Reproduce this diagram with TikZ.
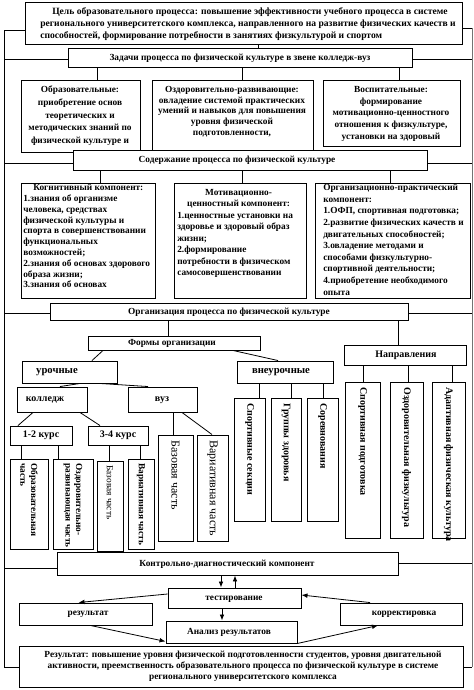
\documentclass[tikz,border=0pt]{standalone}
\usepackage{fontspec}
\setmainfont{Liberation Serif}[BoldFont={Liberation Serif Bold},ItalicFont={Liberation Serif Italic}]
\usetikzlibrary{fit,arrows.meta,calc}
\tikzset{
  bx/.style={draw=black, line width=0.7pt, fill=white, inner sep=0pt},
  tx/.style={inner sep=0pt, font=\bfseries\fontsize{7}{8.5}\selectfont, align=center},
  vt/.style={rotate=-90, anchor=west, inner sep=0pt, align=left, font=\bfseries\fontsize{7}{8}\selectfont},
  ln/.style={line width=0.6pt},
  ar/.style={line width=0.6pt, -{Latex[length=4.5pt,width=3.5pt]}},
}
\newcommand\mkbox[5]{\node[bx,fit={(#2,#3) (#4,#5)}] (#1) {};}
\begin{document}
\begin{tikzpicture}[x=0.75pt,y=-0.75pt]
\useasboundingbox (0,0) rectangle (474,690);
% ---------- boxes
\mkbox{goal}{25}{2}{462}{44}
\mkbox{tasks}{68}{48}{412}{67}
\mkbox{A}{21}{80}{140}{152}
\mkbox{B}{152}{80}{313}{152}
\mkbox{C}{323}{80}{460}{146}
\mkbox{content}{73}{150}{427}{170}
\mkbox{k1}{21}{183}{155}{298}
\mkbox{k2}{174}{183}{306}{298}
\mkbox{k3}{315}{183}{470}{298}
\mkbox{org}{50}{303}{408}{320}
\mkbox{forms}{88}{336}{260}{350}
\mkbox{napr}{344}{345}{466}{365}
\mkbox{uroch}{22}{361}{117}{383}
\mkbox{vneur}{237}{361}{333}{383}
\mkbox{koll}{17}{387}{87}{412}
\mkbox{vuz}{128}{387}{197}{412}
\mkbox{c12}{10}{426}{72}{445}
\mkbox{c34}{88}{426}{148}{445}
\mkbox{v1}{10}{459}{48}{549}
\mkbox{v2}{53}{459}{93}{549}
\mkbox{v3}{97}{461}{123}{551}
\mkbox{v4}{128}{459}{154}{549}
\mkbox{vz1}{158}{435}{193}{541}
\mkbox{vz2}{197}{435}{228}{541}
\mkbox{e1}{234}{398}{265}{521}
\mkbox{e2}{271}{398}{301}{521}
\mkbox{e3}{307}{398}{338}{521}
\mkbox{n1}{345}{382}{380}{538}
\mkbox{n2}{390}{382}{423}{538}
\mkbox{n3}{432}{382}{465}{538}
\mkbox{ctrl}{57}{552}{398}{575}
\mkbox{test}{168}{588}{301}{608}
\mkbox{res}{19}{603}{152}{625}
\mkbox{korr}{340}{603}{462}{625}
\mkbox{an}{166}{621}{297}{643}
\mkbox{final}{19}{646}{463}{687}
% ---------- texts
\node[tx, anchor=north west, align=left, font=\bfseries\fontsize{7.2}{9}\selectfont] (tgoal) at (40,7)
 {\hspace*{9pt}Цель образовательного процесса: повышение эффективности учебного процесса в системе\\
  регионального университетского комплекса, направленного на развитие физических качеств и\\
  способностей, формирование потребности в занятиях физкультурой и спортом};
\node[tx] (ttasks) at (240,58) {Задачи процесса по физической культуре в звене колледж-вуз};
\node[tx, anchor=north, font=\bfseries\fontsize{7}{9.4}\selectfont] (tA) at (80,86)
 {Образовательные:\\приобретение основ\\теоретических и\\методических знаний по\\физической культуре и};
\node[tx, anchor=north, font=\bfseries\fontsize{7}{8}\selectfont] (tB) at (232,86)
 {Оздоровительно-развивающие:\\овладение системой практических\\умений и навыков для повышения\\уровня физической\\подготовленности,};
\node[tx, anchor=north, font=\bfseries\fontsize{7}{8.8}\selectfont] (tC) at (391,86)
 {Воспитательные:\\формирование\\мотивационно-ценностного\\отношения к физкультуре,\\установки на здоровый};
\node[tx] (tcontent) at (237,160) {Содержание процесса по физической культуре};
\node[tx, anchor=north west, align=left, font=\bfseries\fontsize{7}{8.1}\selectfont] (tk1) at (23,184)
 {\hspace*{7.5pt}Когнитивный компонент:\\1.знания об организме\\человека, средствах\\физической культуры и\\спорта в совершенствовании\\функциональных\\возможностей;\\2.знания об основах здорового\\образа жизни;\\3.знания об основах};
\node[tx, anchor=north west, align=none, text width=92pt, font=\bfseries\fontsize{7}{8.6}\selectfont] (tk2) at (177,189)
 {{\centering Мотивационно-\\ценностный компонент:\par}\raggedright
  1.ценностные установки на\\здоровье и здоровый образ\\жизни;\\2.формирование\\потребности в физическом\\самосовершенствовании};
\node[tx, anchor=north west, align=left, font=\bfseries\fontsize{7}{8.7}\selectfont] (tk3) at (323,184)
 {Организационно-практический\\компонент:\\1.ОФП, спортивная подготовка;\\2.развитие физических качеств и\\двигательных способностей;\\3.овладение методами и\\способами физкультурно-\\спортивной деятельности;\\4.приобретение необходимого\\опыта};
\node[tx] (torg) at (229,312) {Организация процесса по физической культуре};
\node[tx] (tforms) at (172,343) {Формы организации};
\node[tx, font=\bfseries\fontsize{8}{9}\selectfont] (turoch) at (57,372) {урочные};
\node[tx, font=\bfseries\fontsize{8}{9}\selectfont] (tvneur) at (281,372) {внеурочные};
\node[tx, font=\bfseries\fontsize{7.5}{9}\selectfont] (tnapr) at (406,355) {Направления};
\node[tx, font=\bfseries\fontsize{7.5}{9}\selectfont] (tkoll) at (45,400) {колледж};
\node[tx, font=\bfseries\fontsize{7.5}{9}\selectfont] (tvuz) at (162,400) {вуз};
\node[tx, font=\bfseries\fontsize{7.5}{9}\selectfont] (tc12) at (41,435.5) {1-2 курс};
\node[tx, font=\bfseries\fontsize{7.5}{9}\selectfont] (tc34) at (118,435.5) {3-4 курс};
% vertical texts
\node[vt] (tv1) at (29,463) {Образовательная\\часть};
\node[vt] (tv2) at (73,463) {Оздоровительно-\\развивающая часть};
\node[vt, font=\fontsize{7}{8}\selectfont] (tv3) at (110,465) {Базовая часть};
\node[vt] (tv4) at (141,463) {Вариативная часть};
\node[vt, font=\fontsize{9}{10}\selectfont] (tvz1) at (175.5,440) {Базовая часть};
\node[vt, font=\fontsize{9}{10}\selectfont] (tvz2) at (212.5,440) {Вариативная часть};
\node[vt, font=\bfseries\fontsize{7.5}{8}\selectfont] (te1) at (249.5,403) {Спортивные секции};
\node[vt, font=\bfseries\fontsize{7.5}{8}\selectfont] (te2) at (286,403) {Группы здоровья};
\node[vt, font=\bfseries\fontsize{7.5}{8}\selectfont] (te3) at (322.5,403) {Соревнования};
\node[vt, font=\bfseries\fontsize{7.5}{8}\selectfont] (tn1) at (362.5,387) {Спортивная подготовка};
\node[vt, font=\bfseries\fontsize{7.5}{8}\selectfont] (tn2) at (406.5,387) {Оздоровительная физкультура};
\node[vt, font=\bfseries\fontsize{7.5}{8}\selectfont] (tn3) at (448.5,387) {Адаптивная физическая культура};
\node[tx] (tctrl) at (227,564) {Контрольно-диагностический компонент};
\node[tx] (ttest) at (234,599) {тестирование};
\node[tx] (tres) at (88,614) {результат};
\node[tx] (tkorr) at (404,614) {корректировка};
\node[tx] (tan) at (229,632.5) {Анализ результатов};
\node[tx, font=\bfseries\fontsize{7}{8.3}\selectfont] (tfinal) at (243,666.5)
 {Результат: повышение уровня физической подготовленности студентов, уровня двигательной\\
  активности, преемственность образовательного процесса по физической культуре в системе\\
  регионального университетского комплекса};
% ---------- frame lines
\draw[ln] (goal.west |- 0,30) -- (4,30) -- (4,667) -- (final.west |- 0,667);
\draw[ln] (tasks.west |- 0,59) -- (4,59);
\draw[ln] (content.west |- 0,163) -- (4,163);
\draw[ln] (org.west |- 0,313) -- (4,313);
\draw[ln] (ctrl.west |- 0,568) -- (4,568);
\draw[ln] (goal.east |- 0,28) -- (472,28);
\draw[ln, black!55] (472,28) -- (472,667);
\draw[ln] (tasks.east |- 0,59) -- (472,59);
\draw[ln] (content.east |- 0,163) -- (472,163);
\draw[ln] (org.east |- 0,313) -- (472,313);
\draw[ln] (ctrl.east |- 0,563) -- (472,563);
\draw[ln] (final.east |- 0,667) -- (472,667);
% ---------- connectors
\draw[ln] (258,0 |- goal.south) -- (258,0 |- tasks.north);
\draw[ln] (97,0 |- tasks.south) -- (97,0 |- A.north);
\draw[ln] (242,0 |- tasks.south) -- (242,0 |- B.north);
\draw[ln] (399,0 |- tasks.south) -- (399,0 |- C.north);
\draw[ln] (100,0 |- content.south) -- (100,0 |- k1.north);
\draw[ln] (242,0 |- content.south) -- (242,0 |- k2.north);
\draw[ln] (390,0 |- content.south) -- (390,0 |- k3.north);
\draw[ln] (168,0 |- org.south) -- (168,0 |- forms.north);
\draw[ln] (398,0 |- org.south) -- (398,0 |- napr.north);
\draw[ln] (103,0 |- forms.south) -- (92,0 |- uroch.north);
\draw[ln] (233,0 |- forms.south) -- (278,0 |- vneur.north);
\draw[ln] (80,0 |- uroch.south) -- (60,0 |- koll.north);
\draw[ln] (100,0 |- uroch.south) -- (148,0 |- vuz.north);
\draw[ln] (33,0 |- koll.south) -- (18,0 |- c12.north);
\draw[ln] (80,0 |- koll.south) -- (100,0 |- c34.north);
\draw[ln] (173,0 |- vuz.south) -- (173,0 |- vz1.north);
\draw[ln] (182,0 |- vuz.south) -- (212,0 |- vz2.north);
\draw[ln] (21,0 |- c12.south) -- (21,0 |- v1.north);
\draw[ln] (58,0 |- c12.south) -- (58,0 |- v2.north);
\draw[ln] (109,0 |- c34.south) -- (109,0 |- v3.north);
\draw[ln] (140,0 |- c34.south) -- (140,0 |- v4.north);
\draw[ln] (259,0 |- vneur.south) -- (259,0 |- e1.north);
\draw[ln] (291,0 |- vneur.south) -- (291,0 |- e2.north);
\draw[ln] (323,0 |- vneur.south) -- (323,0 |- e3.north);
\draw[ln] (363,0 |- napr.south) -- (363,0 |- n1.north);
\draw[ln] (408,0 |- napr.south) -- (408,0 |- n2.north);
\draw[ln] (452,0 |- napr.south) -- (452,0 |- n3.north);
% ---------- arrows
\draw[ar] (221,0 |- ctrl.south) -- (221,0 |- test.north);
\draw[ar] (235,0 |- test.north) -- (235,0 |- ctrl.south);
\draw[ar] (222,0 |- test.south) -- (222,0 |- an.north);
\draw[ar] ($(test.west)+(0,-4)$) -- ($(res.north)+(-7,0)$);
\draw[ar] ($(res.south)+(5,0)$) -- ($(an.south west)+(0,-2)$);
\draw[ar] (an.south east) -- ($(korr.south)+(-23,0)$);
\draw[ar] ($(korr.north)+(-31,0)$) -- ($(test.east)+(0,-3)$);
\end{tikzpicture}
\end{document}
